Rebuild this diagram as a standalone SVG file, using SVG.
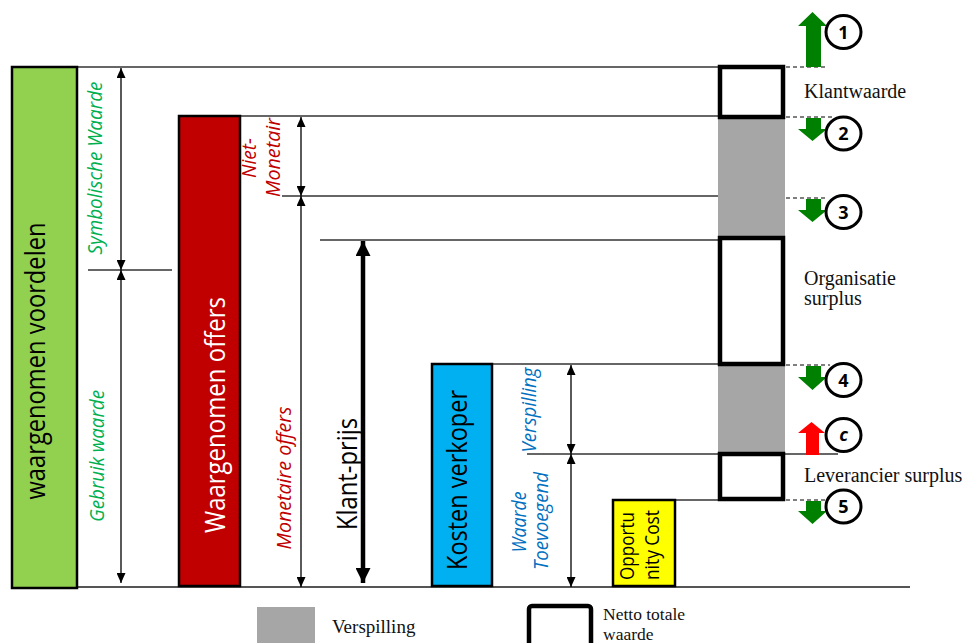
<svg xmlns="http://www.w3.org/2000/svg" width="967" height="643" viewBox="0 0 967 643">
<defs>
<style>
.bar{stroke:#000;stroke-width:2.5}
.hl{stroke:#333;stroke-width:1.5;fill:none}
.dash{stroke:#000;stroke-width:1;stroke-dasharray:4 3;fill:none}
.dim{stroke:#000;stroke-width:1.3;fill:none;marker-start:url(#ah);marker-end:url(#ah)}
.box{fill:#fff;stroke:#000;stroke-width:4.5}
.gray{fill:#A6A6A6}
.big{font-family:"Open Sans","Noto Sans",sans-serif;font-size:27px;text-anchor:middle}
.it{font-family:"Open Sans","Noto Sans",sans-serif;font-style:italic;font-size:20px;text-anchor:middle}
.ser{font-family:"Liberation Serif","Times New Roman",serif;font-size:20px;fill:#111}
.circ{fill:#fff;stroke:#000;stroke-width:3}
.num{font-family:"Open Sans","Noto Sans",sans-serif;font-weight:bold;font-size:18px;text-anchor:middle}
</style>
<marker id="ah" viewBox="0 0 10 9" refX="10" refY="4.5" markerWidth="10" markerHeight="9" markerUnits="userSpaceOnUse" orient="auto-start-reverse"><path d="M0,0 L10,4.5 L0,9 z" fill="#000"/></marker>
<marker id="ahb" viewBox="0 0 15 15" refX="15" refY="7.5" markerWidth="15" markerHeight="15" markerUnits="userSpaceOnUse" orient="auto-start-reverse"><path d="M0,0 L15,7.5 L0,15 z" fill="#000"/></marker>
</defs>
<rect width="967" height="643" fill="#fff"/>

<g id="connectors">
<line class="hl" x1="77" y1="67" x2="720" y2="67"/>
<line class="hl" x1="240" y1="116" x2="720" y2="116"/>
<line class="hl" x1="282" y1="196" x2="720" y2="196"/>
<line class="hl" x1="320" y1="240" x2="720" y2="240"/>
<line class="hl" x1="88" y1="270" x2="172" y2="270"/>
<line class="hl" x1="492" y1="364" x2="720" y2="364"/>
<line class="hl" x1="527" y1="454" x2="838" y2="454"/>
<line class="hl" x1="675" y1="500" x2="720" y2="500"/>
<line stroke="#555" stroke-width="2" x1="12" y1="587" x2="910" y2="587"/>
<line class="dash" x1="786" y1="67" x2="828" y2="67"/>
<line class="dash" x1="786" y1="117" x2="833" y2="117"/>
<line class="dash" x1="786" y1="198" x2="828" y2="198"/>
<line class="dash" x1="786" y1="365" x2="830" y2="365"/>
<line class="dash" x1="786" y1="500" x2="830" y2="500"/>
<line class="dim" x1="121" y1="68" x2="121" y2="270"/>
<line class="dim" x1="121" y1="270" x2="121" y2="583"/>
<line class="dim" x1="301" y1="117" x2="301" y2="196"/>
<line class="dim" x1="301" y1="196" x2="301" y2="587"/>
<line class="dim" x1="571" y1="365" x2="571" y2="454"/>
<line class="dim" x1="571" y1="454" x2="571" y2="587"/>
<line x1="363" y1="241" x2="363" y2="583" stroke="#000" stroke-width="4.5" marker-start="url(#ahb)" marker-end="url(#ahb)"/>
</g>

<g id="waargenomen-voordelen">
<rect class="bar" x="12" y="67" width="65" height="521" fill="#92D050"/>
<text class="big" transform="translate(45,361) rotate(-90)" textLength="277" lengthAdjust="spacingAndGlyphs">waargenomen voordelen</text>
</g>
<g id="waargenomen-offers">
<rect class="bar" x="179" y="116" width="61" height="470" fill="#C00000"/>
<text class="big" fill="#fff" transform="translate(225,415) rotate(-90)" textLength="236" lengthAdjust="spacingAndGlyphs">Waargenomen offers</text>
</g>
<g id="klant-prijs">
<text class="big" transform="translate(357,474) rotate(-90)" textLength="112" lengthAdjust="spacingAndGlyphs">Klant-prijs</text>
</g>
<g id="kosten-verkoper">
<rect class="bar" x="432" y="364" width="60" height="222" fill="#00B0F0"/>
<text class="big" transform="translate(467,480) rotate(-90)" textLength="180" lengthAdjust="spacingAndGlyphs">Kosten verkoper</text>
</g>
<g id="opportunity-cost">
<rect class="bar" x="613" y="500" width="62" height="86" fill="#FFFF00"/>
<text class="big" style="font-size:20px;text-anchor:start" transform="translate(634,580) rotate(-90)" textLength="68" lengthAdjust="spacingAndGlyphs">Opportu</text>
<text class="big" style="font-size:20px;text-anchor:start" transform="translate(659,580) rotate(-90)" textLength="70" lengthAdjust="spacingAndGlyphs">nity Cost</text>
</g>

<g id="labels">
<text class="it" fill="#00B050" transform="translate(102,168) rotate(-90)" textLength="173" lengthAdjust="spacingAndGlyphs">Symbolische Waarde</text>
<text class="it" fill="#00B050" transform="translate(104,456) rotate(-90)" textLength="132" lengthAdjust="spacingAndGlyphs">Gebruik waarde</text>
<text class="it" fill="#C00000" transform="translate(256,158) rotate(-90)" textLength="40" lengthAdjust="spacingAndGlyphs">Niet-</text>
<text class="it" fill="#C00000" transform="translate(280,157.5) rotate(-90)" textLength="79" lengthAdjust="spacingAndGlyphs">Monetair</text>
<text class="it" fill="#C00000" transform="translate(291,478) rotate(-90)" textLength="143" lengthAdjust="spacingAndGlyphs">Monetaire offers</text>
<text class="it" fill="#0070C0" transform="translate(536,410) rotate(-90)" textLength="85" lengthAdjust="spacingAndGlyphs">Verspilling</text>
<text class="it" fill="#0070C0" transform="translate(526,522) rotate(-90)" textLength="61" lengthAdjust="spacingAndGlyphs">Waarde</text>
<text class="it" fill="#0070C0" transform="translate(548,521) rotate(-90)" textLength="98" lengthAdjust="spacingAndGlyphs">Toevoegend</text>
</g>

<g id="waarde-kolom">
<rect class="gray" x="718" y="117" width="67" height="121"/>
<rect class="gray" x="718" y="364" width="67" height="90"/>
<rect class="box" x="720" y="67" width="63" height="50"/>
<rect class="box" x="720" y="238" width="63" height="126"/>
<rect class="box" x="720" y="454" width="63" height="45"/>
<text class="ser" x="804" y="98">Klantwaarde</text>
<text class="ser" x="804" y="285">Organisatie</text>
<text class="ser" x="804" y="305">surplus</text>
<text class="ser" x="804" y="482">Leverancier surplus</text>
</g>

<g id="indicator-1">
<path d="M806,67 V26 H798 L812.5,12 L827,26 H821 V67 z" fill="#008000"/>
<ellipse class="circ" cx="843.5" cy="32" rx="17.5" ry="16.5"/>
<text class="num" x="843.5" y="38.5">1</text>
</g>
<g id="indicator-2">
<path d="M806,118 V129 H798 L812.5,141 L827,129 H821 V118 z" fill="#008000"/>
<ellipse class="circ" cx="843.5" cy="133.5" rx="17.5" ry="16.5"/>
<text class="num" x="843.5" y="140">2</text>
</g>
<g id="indicator-3">
<path d="M806,199 V210 H798 L812.5,222 L827,210 H821 V199 z" fill="#008000"/>
<ellipse class="circ" cx="843.5" cy="212" rx="17.5" ry="16.5"/>
<text class="num" x="843.5" y="218.5">3</text>
</g>
<g id="indicator-4">
<path d="M806,366 V377 H798 L812.5,390 L827,377 H821 V366 z" fill="#008000"/>
<ellipse class="circ" cx="843.5" cy="380" rx="17.5" ry="16.5"/>
<text class="num" x="843.5" y="386.5">4</text>
</g>
<g id="indicator-c">
<path d="M806,455 V433 H798 L811.5,422 L825,433 H819 V455 z" fill="#FF0000"/>
<ellipse class="circ" cx="843.5" cy="435" rx="17.5" ry="16.5"/>
<text class="num" style="font-style:italic" x="843.5" y="441">c</text>
</g>
<g id="indicator-5">
<path d="M806,501 V511 H798 L812.5,524 L827,511 H821 V501 z" fill="#008000"/>
<ellipse class="circ" cx="843.5" cy="506.5" rx="17.5" ry="16.5"/>
<text class="num" x="843.5" y="513">5</text>
</g>

<g id="legend">
<rect class="gray" x="257" y="607" width="58" height="40"/>
<text class="ser" style="font-size:19px" x="332" y="633">Verspilling</text>
<rect class="box" x="529" y="606" width="62" height="50" rx="3"/>
<text class="ser" style="font-size:17.5px" x="603" y="620">Netto totale</text>
<text class="ser" style="font-size:17.5px" x="603" y="640">waarde</text>
</g>
</svg>
